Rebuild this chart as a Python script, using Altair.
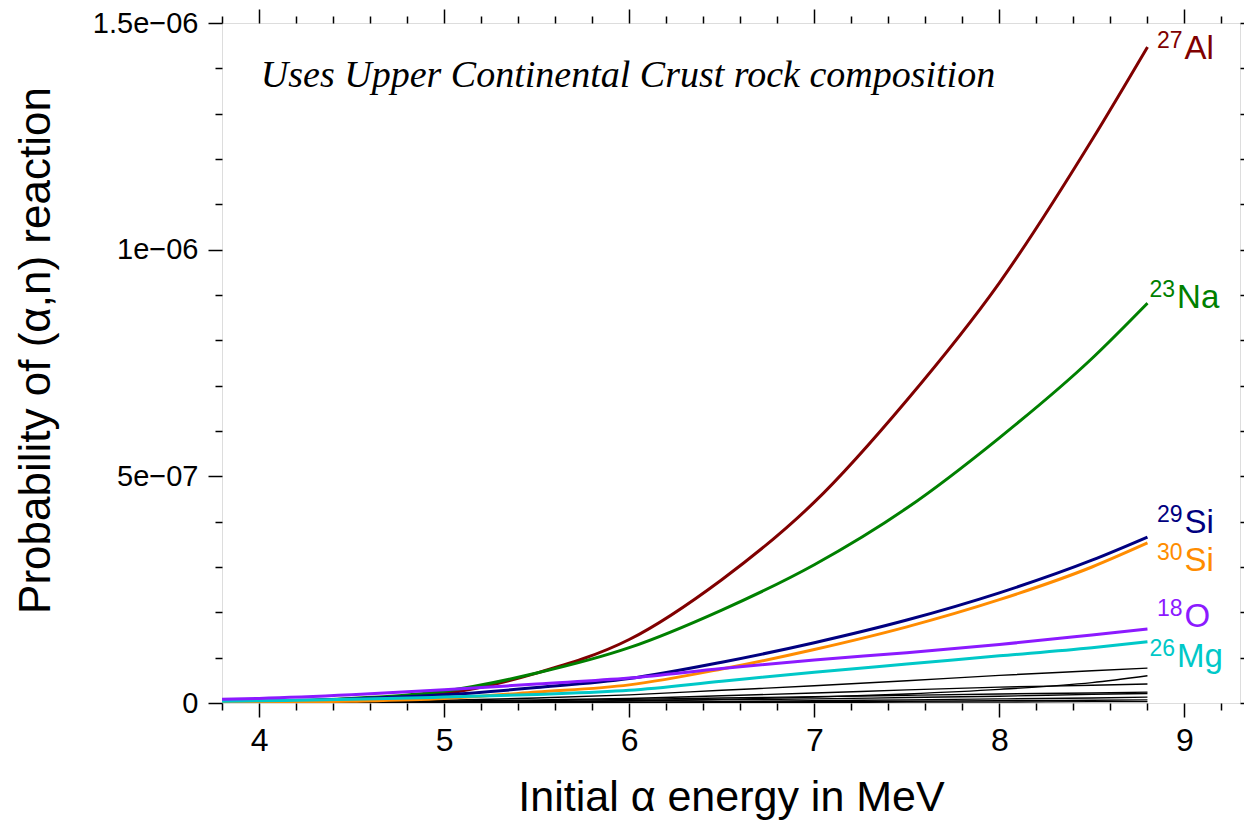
import altair as alt
import pandas as pd

# ---------------- data ----------------
energy = [3.8, 4.0, 4.5, 5.0, 5.5, 6.0, 6.5, 7.0, 7.5, 8.0, 8.5, 8.8]

# probabilities in units of 1e-6
al27 = [0.001, 0.002, 0.009, 0.021, 0.066, 0.140, 0.272, 0.443, 0.668, 0.927, 1.242, 1.447]
na23 = [0.001, 0.002, 0.010, 0.026, 0.066, 0.122, 0.205, 0.305, 0.430, 0.585, 0.760, 0.882]
si29 = [0.003, 0.004, 0.009, 0.018, 0.034, 0.054, 0.090, 0.133, 0.183, 0.243, 0.315, 0.366]
si30 = [0.000, 0.001, 0.004, 0.010, 0.024, 0.040, 0.075, 0.118, 0.168, 0.228, 0.300, 0.353]
o18 = [0.008, 0.010, 0.018, 0.029, 0.042, 0.055, 0.076, 0.095, 0.111, 0.129, 0.150, 0.163]
mg26 = [0.004, 0.005, 0.008, 0.013, 0.019, 0.028, 0.048, 0.068, 0.086, 0.104, 0.122, 0.135]

black_series = [
    [0.000, 0.000, 0.002, 0.006, 0.011, 0.018, 0.028, 0.038, 0.049, 0.061, 0.071, 0.077],
    [0.000, 0.000, 0.000, 0.001, 0.002, 0.005, 0.008, 0.013, 0.020, 0.030, 0.045, 0.060],
    [0.000, 0.000, 0.001, 0.004, 0.007, 0.010, 0.016, 0.022, 0.029, 0.035, 0.039, 0.042],
    [0.000, 0.000, 0.001, 0.003, 0.005, 0.008, 0.011, 0.014, 0.017, 0.020, 0.022, 0.024],
    [0.000, 0.000, 0.000, 0.001, 0.003, 0.005, 0.007, 0.009, 0.012, 0.015, 0.019, 0.021],
    [0.000, 0.000, 0.000, 0.000, 0.001, 0.002, 0.003, 0.005, 0.007, 0.009, 0.011, 0.013],
    [0.000, 0.000, 0.000, 0.000, 0.000, 0.001, 0.002, 0.003, 0.004, 0.005, 0.006, 0.007],
    [0.000, 0.000, 0.000, 0.000, 0.000, 0.000, 0.001, 0.001, 0.002, 0.002, 0.003, 0.003],
]

series_names = ["27Al", "23Na", "29Si", "30Si", "26Mg", "18O"]
series_values = [al27, na23, si29, si30, mg26, o18]
series_colors = ["#800000", "#008000", "#000080", "#ff8c00", "#00c8c8", "#8c1aff"]

# labels: mass number, symbol, anchor (energy, probability in 1e-6)
label_iso = ["27", "23", "29", "30", "18", "26"]
label_sym = ["Al", "Na", "Si", "Si", "O", "Mg"]
label_color = ["#800000", "#008000", "#000080", "#ff8c00", "#8c1aff", "#00c8c8"]
label_x = [9.0, 8.96, 9.0, 9.0, 9.0, 8.96]
label_y = [1.421, 0.871, 0.375, 0.291, 0.168, 0.079]

note_text = "Uses Upper Continental Crust rock composition"
note_x = 4.01
note_y = 1.359

x_tick_values = [round(3.8 + 0.2 * i, 1) for i in range(28)]
y_tick_values = [i / 1e7 for i in range(16)]

# ---------------- build tables ----------------
rows = []
for name, vals in zip(series_names, series_values):
    for e, v in zip(energy, vals):
        rows.append({"energy": e, "prob": v * 1e-6, "series": name})
df_col = pd.DataFrame(rows)

rows = []
for k, vals in enumerate(black_series):
    for e, v in zip(energy, vals):
        rows.append({"energy": e, "prob": v * 1e-6, "series": f"b{k}"})
df_blk = pd.DataFrame(rows)

df_lab = pd.DataFrame({
    "iso": label_iso, "sym": label_sym, "color": label_color,
    "x": label_x, "y": [v * 1e-6 for v in label_y],
})
df_note = pd.DataFrame({"text": [note_text], "x": [note_x], "y": [note_y * 1e-6]})

FONT = "Liberation Sans"
xscale = alt.Scale(domain=[3.8, 9.3], nice=False, zero=False)
yscale = alt.Scale(domain=[0, 1.5e-6], nice=False, zero=True)

x_major = "abs(datum.value - round(datum.value)) < 0.001"
y_major = "abs(datum.value * 2e6 - round(datum.value * 2e6)) < 0.001"

x_axis_bottom = alt.Axis(
    orient="bottom", values=x_tick_values,
    labelExpr=f"{x_major} ? format(datum.value, 'd') : ''",
    tickSize={"condition": {"test": x_major, "value": 14}, "value": 7},
    title="Initial α energy in MeV", titleFont=FONT, titleFontSize=43,
    titleFontWeight="normal", titleColor="black", titlePadding=20,
    labelFont=FONT, labelFontSize=32, labelColor="black", labelPadding=8,
    tickColor="black", tickWidth=1.5, domain=False, grid=False,
    labelFlush=False, labelOverlap=False,
)
y_axis_left = alt.Axis(
    orient="left", values=y_tick_values,
    labelExpr=f"{y_major} ? (datum.value == 0 ? '0' : replace(format(datum.value, '~e'), 'e-', 'e−0')) : ''",
    tickSize={"condition": {"test": y_major, "value": 14}, "value": 7},
    title="Probability of (α,n) reaction", titleFont=FONT, titleFontSize=44,
    titleFontWeight="normal", titleColor="black", titlePadding=34, titleY=327,
    labelFont=FONT, labelFontSize=29, labelColor="black", labelPadding=10,
    tickColor="black", tickWidth=1.5, domain=False, grid=False,
    labelFlush=False, labelOverlap=False,
)
x_axis_top = alt.Axis(
    orient="top", values=x_tick_values, labels=False, title=None,
    tickSize={"condition": {"test": x_major, "value": 14}, "value": 7},
    tickColor="black", tickWidth=1.5, domain=False, grid=False,
)
y_axis_right = alt.Axis(
    orient="right", values=y_tick_values, labels=False, title=None,
    tickSize={"condition": {"test": y_major, "value": 14}, "value": 7},
    tickColor="black", tickWidth=1.5, domain=False, grid=False,
)

black_lines = alt.Chart(df_blk).mark_line(
    color="black", strokeWidth=1.4, interpolate="monotone", clip=True
).encode(
    x=alt.X("energy:Q", scale=xscale, axis=x_axis_bottom),
    y=alt.Y("prob:Q", scale=yscale, axis=y_axis_left),
    detail="series:N",
)

colored = alt.Chart(df_col).mark_line(
    strokeWidth=3, interpolate="monotone", clip=True
).encode(
    x=alt.X("energy:Q", scale=xscale, axis=None),
    y=alt.Y("prob:Q", scale=yscale, axis=None),
    color=alt.Color("series:N", scale=alt.Scale(domain=series_names, range=series_colors), legend=None),
    order=alt.Order("energy:Q"),
)

frame_ticks = alt.Chart(df_col).mark_point(opacity=0).encode(
    x=alt.X("energy:Q", scale=xscale, axis=x_axis_top),
    y=alt.Y("prob:Q", scale=yscale, axis=y_axis_right),
)

sym_text = alt.Chart(df_lab).mark_text(
    font=FONT, fontSize=33, align="left", baseline="alphabetic"
).encode(
    x=alt.X("x:Q", scale=xscale, axis=None),
    y=alt.Y("y:Q", scale=yscale, axis=None),
    text="sym:N",
    color=alt.Color("color:N", scale=None),
)
iso_text = alt.Chart(df_lab).mark_text(
    font=FONT, fontSize=23, align="right", baseline="alphabetic", dx=-2, dy=-11
).encode(
    x=alt.X("x:Q", scale=xscale, axis=None),
    y=alt.Y("y:Q", scale=yscale, axis=None),
    text="iso:N",
    color=alt.Color("color:N", scale=None),
)
note = alt.Chart(df_note).mark_text(
    font="Liberation Serif", fontStyle="italic", fontSize=38, align="left",
    baseline="alphabetic", color="black"
).encode(
    x=alt.X("x:Q", scale=xscale, axis=None),
    y=alt.Y("y:Q", scale=yscale, axis=None),
    text="text:N",
)

chart = alt.layer(
    black_lines, colored, frame_ticks, sym_text, iso_text, note
).resolve_axis(
    x="independent", y="independent"
).properties(
    width=1018, height=680,
    autosize=alt.AutoSizeParams(type="none"),
    padding={"left": 214, "top": 15, "right": 4, "bottom": 124},
).configure_view(
    stroke="black", strokeWidth=2.5
).configure(background="white")

chart.save("out.html", embed_options={"renderer": "svg", "actions": False})
